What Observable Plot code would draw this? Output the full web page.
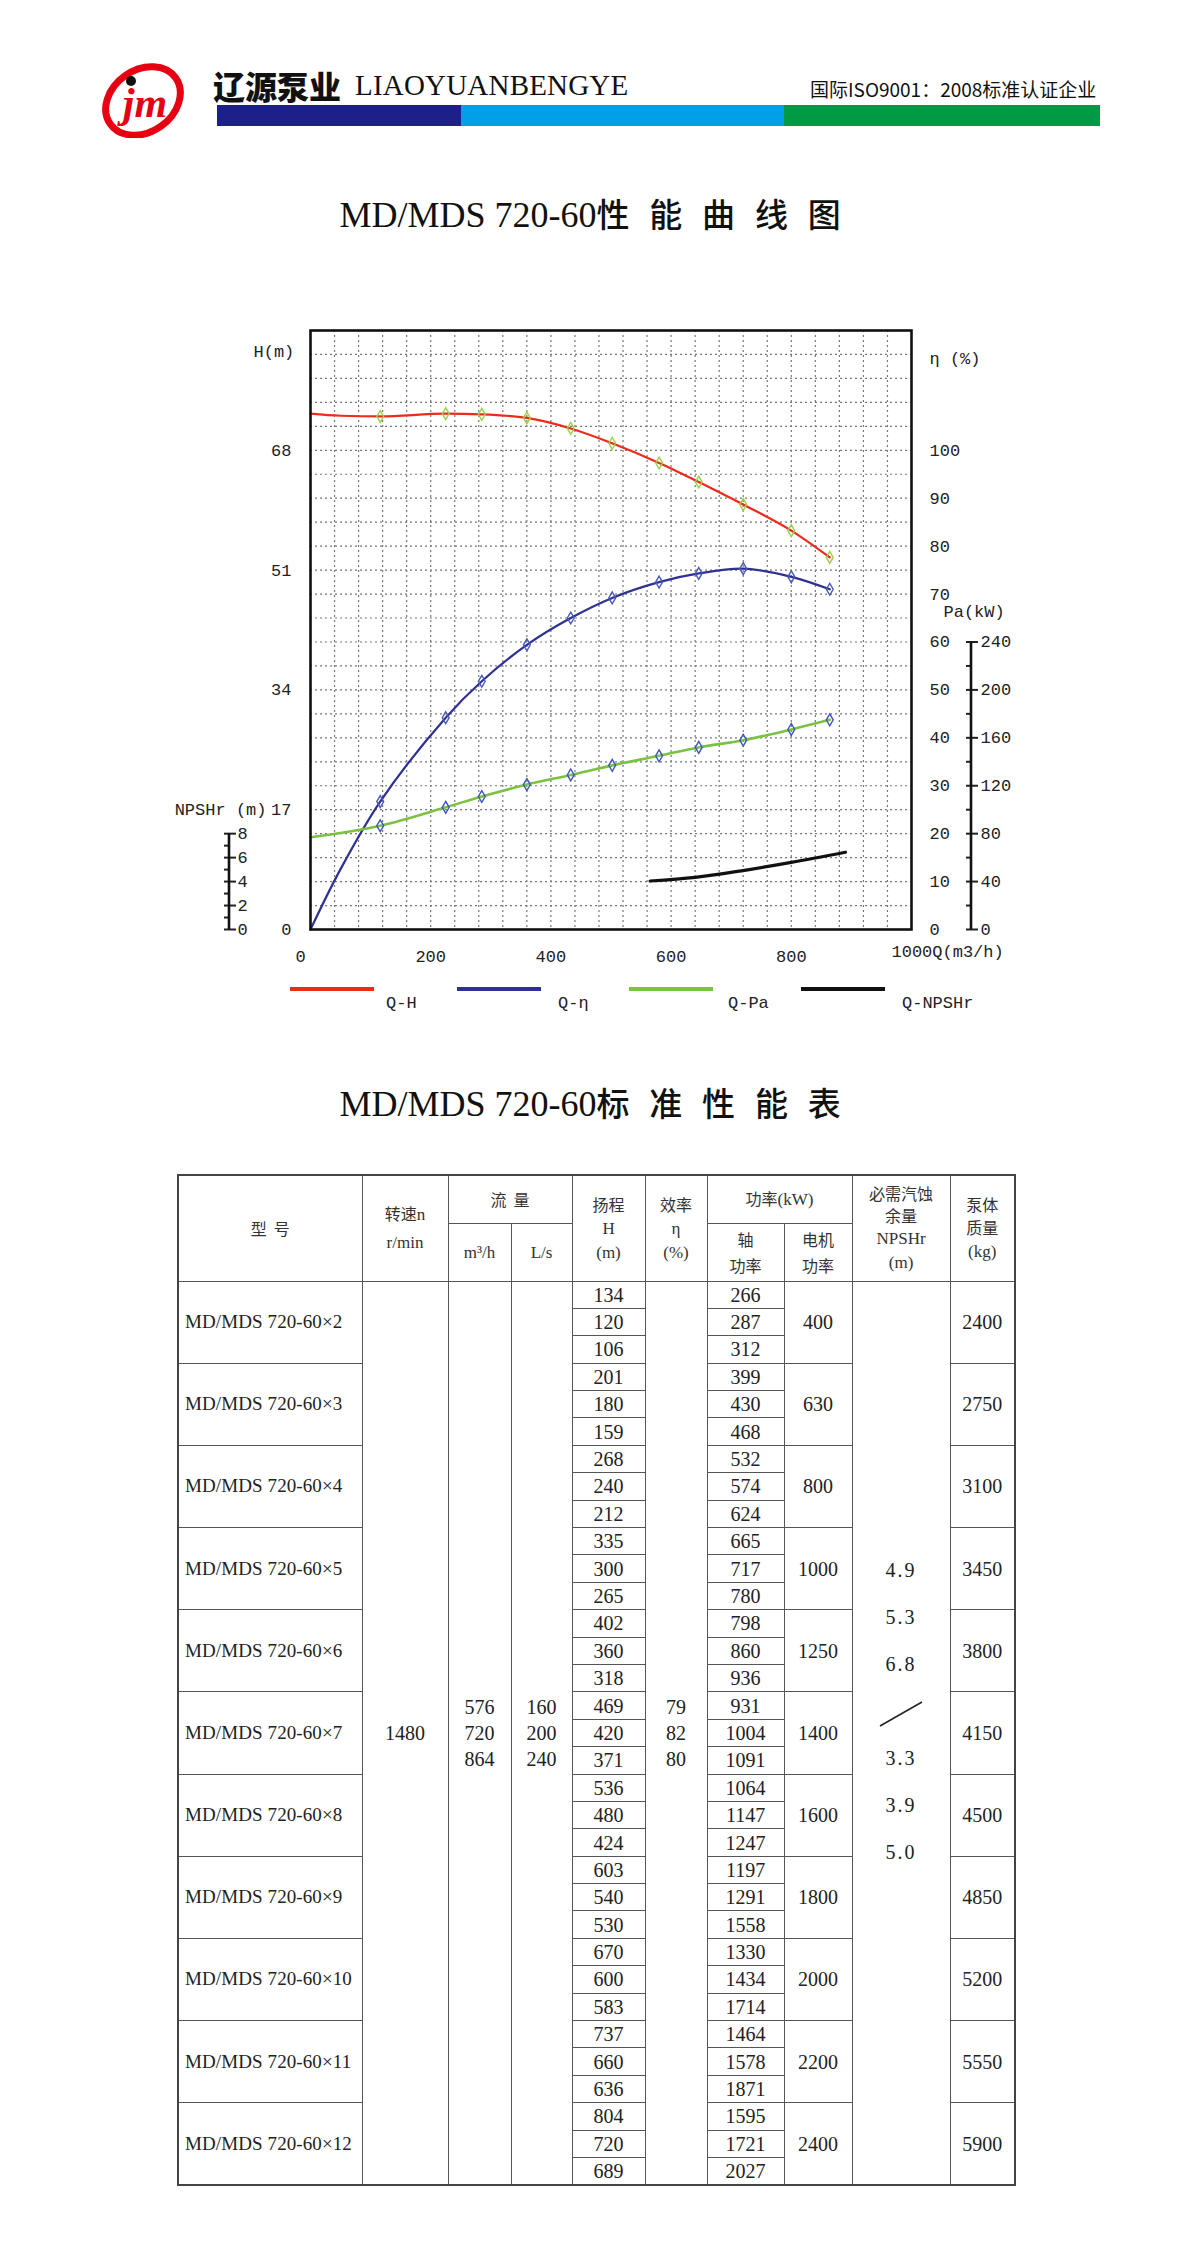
<!DOCTYPE html>
<html><head><meta charset="utf-8">
<script src="https://cdn.jsdelivr.net/npm/d3@7"></script>
<script src="https://cdn.jsdelivr.net/npm/@observablehq/plot@0.6"></script>
<style>
body{margin:0;background:#fff;}
#page{position:relative;width:1200px;height:2250px;overflow:hidden;background:#fff;color:#222;font-family:"Liberation Serif","Noto Sans CJK SC",serif;}
.abs{position:absolute;white-space:nowrap;}
.bar{position:absolute;top:105px;height:21px;}
.title{position:absolute;left:0;width:1200px;text-align:center;font-size:36px;line-height:36px;font-family:"Liberation Serif","Noto Sans CJK SC",serif;color:#111;}
.title .cn{letter-spacing:0.6em;font-family:"Noto Sans CJK SC";font-weight:500;font-size:33px;}
#chart{position:absolute;left:0;top:300px;}
.lg{position:absolute;top:987px;height:4px;}
.lgt{position:absolute;top:994px;font-family:"Liberation Mono",monospace;font-size:17px;line-height:20px;color:#222;}
#tbl{position:absolute;left:177px;top:1174px;border-collapse:collapse;table-layout:fixed;width:837px;border:2px solid #444;}
#tbl td{border:1.5px solid #555;padding:0;text-align:center;vertical-align:middle;font-family:"Liberation Serif","Noto Sans CJK SC",serif;font-size:20px;color:#222;overflow:hidden;}
#tbl tr.d td{height:26.4px;line-height:26px;}
#tbl .hd{font-family:"Noto Sans CJK SC","Liberation Serif",serif;font-size:16px;line-height:23px;color:#333;}
#tbl .hd .en{font-family:"Liberation Serif";font-size:17px;}
#tbl td.model{font-size:19px;text-align:left;padding-left:6px;letter-spacing:0.1px;}
#tbl td.big{line-height:27.5px;}
.npsh{line-height:47px;transform:translateY(-21px);letter-spacing:2px;}
</style></head><body><div id="page">

<svg class="abs" style="left:95px;top:62px" width="95" height="76" viewBox="0 0 95 76">
  <ellipse cx="48" cy="39" rx="40" ry="31" fill="none" stroke="#e60012" stroke-width="7" transform="rotate(-35 48 39)"/>
  <circle cx="36" cy="19" r="5" fill="#111"/>
  <text x="50" y="55" text-anchor="middle" font-family="Liberation Serif" font-style="italic" font-weight="bold" font-size="42" fill="#e60012">jm</text>
</svg>
<div class="abs" style="left:213px;top:67px;font-family:'Noto Sans CJK SC';font-weight:900;font-size:32px;line-height:36px;color:#111;">辽源泵业</div>
<div class="abs" style="left:355px;top:67px;font-family:'Liberation Serif';font-size:29px;line-height:36px;color:#111;letter-spacing:0.2px;">LIAOYUANBENGYE</div>
<div class="abs" style="left:810px;top:77px;font-family:'Noto Sans CJK SC';font-size:19px;line-height:24px;color:#111;">国际ISO9001：2008标准认证企业</div>
<div class="bar" style="left:217px;width:244px;background:#1d2088;"></div>
<div class="bar" style="left:461px;width:323px;background:#00a0e9;"></div>
<div class="bar" style="left:784px;width:316px;background:#009944;"></div>

<div class="title" style="top:195px;">MD/MDS 720-60<span class="cn">性能曲线图</span></div>

<div id="chart"></div>

<div class="lg" style="left:290px;width:84px;background:#ee2a1b;"></div>
<div class="lgt" style="left:386px;">Q-H</div>
<div class="lg" style="left:457px;width:84px;background:#2e3192;"></div>
<div class="lgt" style="left:558px;">Q-η</div>
<div class="lg" style="left:629px;width:84px;background:#7cc242;"></div>
<div class="lgt" style="left:728px;">Q-Pa</div>
<div class="lg" style="left:801px;width:84px;background:#111;"></div>
<div class="lgt" style="left:902px;">Q-NPSHr</div>

<div class="title" style="top:1084px;">MD/MDS 720-60<span class="cn">标准性能表</span></div>

<table id="tbl"></table>
</div>
<script>
// ---------- chart data ----------
const qhQ   = [0, 50, 116, 225, 285, 360, 433, 502, 580, 646, 720, 800, 864];
const qhH   = [73.2, 72.9, 72.8, 73.2, 73.1, 72.6, 71.1, 69.0, 66.2, 63.5, 60.3, 56.6, 52.8];
const qetaQ = [0, 50, 116, 225, 285, 360, 433, 502, 580, 646, 720, 800, 864];
const qetaE = [0, 12.6, 26.7, 44.2, 51.8, 59.4, 65.0, 69.2, 72.5, 74.3, 75.3, 73.6, 71.0];
const qpaQ  = [0, 116, 225, 285, 360, 433, 502, 580, 646, 720, 800, 864];
const qpaP  = [77, 86.6, 102, 111, 121, 129, 137, 145, 152, 158, 167, 175];
const npshQ = [565, 640, 717, 800, 890];
const npshV = [4.05, 4.35, 4.9, 5.6, 6.45];
const markerQ = [116, 225, 285, 360, 433, 502, 580, 646, 720, 800, 864];

// axis tick labels
const xTicks = [0, 200, 400, 600, 800];
const hTicks = [0, 17, 34, 51, 68];
const etaTicks = [0, 10, 20, 30, 40, 50, 60, 70, 80, 90, 100];
const paTicks = [0, 40, 80, 120, 160, 200, 240];
const paMinor = [20, 60, 100, 140, 180, 220];
const npTicks = [0, 2, 4, 6, 8];
const npMinor = [1, 3, 5, 7];
const gridQ = d3.range(40, 1000, 40);
const gridH = d3.range(1, 25).map(i => i * 3.4);

// secondary axes expressed in head units (H 85 = full height)
const kEta = 0.68, kPa = 0.17, kNp = 1.7;

const rowsH = qhQ.map((q, i) => ({q, v: qhH[i]}));
const rowsE = qetaQ.map((q, i) => ({q, v: qetaE[i] * kEta}));
const rowsP = qpaQ.map((q, i) => ({q, v: qpaP[i] * kPa}));
const rowsN = npshQ.map((q, i) => ({q, v: npshV[i] * kNp}));
const mk = rows => rows.filter(d => markerQ.includes(d.q));

const RED = "#ee2a1b", BLUE = "#2e3192", GREEN = "#7cc242", BLACK = "#111";

const chart = Plot.plot({
  width: 1200, height: 679,
  marginLeft: 310, marginRight: 289, marginTop: 30, marginBottom: 50,
  x: {domain: [0, 1000]},
  y: {domain: [0, 85]},
  style: {fontFamily: "Liberation Mono, monospace", fontSize: "17px", color: "#222", background: "transparent"},
  marks: [
    Plot.ruleX(gridQ, {stroke: "#777", strokeDasharray: "2,3", strokeWidth: 1.2}),
    Plot.ruleY(gridH, {stroke: "#777", strokeDasharray: "2,3", strokeWidth: 1.2}),
    Plot.line(rowsH, {x: "q", y: "v", stroke: RED, strokeWidth: 2.2, curve: "monotone-x"}),
    Plot.line(rowsE, {x: "q", y: "v", stroke: BLUE, strokeWidth: 2.2, curve: "catmull-rom"}),
    Plot.line(rowsP, {x: "q", y: "v", stroke: GREEN, strokeWidth: 2.6, curve: "monotone-x"}),
    Plot.line(rowsN, {x: "q", y: "v", stroke: BLACK, strokeWidth: 3.2, curve: "monotone-x"}),
    Plot.dot(mk(rowsH), {x: "q", y: "v", symbol: "diamond", r: 3.6, stroke: "#9bd04a", strokeWidth: 1.4, fill: "none"}),
    Plot.dot(mk(rowsE), {x: "q", y: "v", symbol: "diamond", r: 3.6, stroke: "#4a5ab8", strokeWidth: 1.4, fill: "none"}),
    Plot.dot(mk(rowsP), {x: "q", y: "v", symbol: "diamond", r: 3.6, stroke: "#3f55c0", strokeWidth: 1.4, fill: "none"}),
    Plot.frame({stroke: "#111", strokeWidth: 2.6}),
    Plot.axisX({ticks: xTicks.filter(d => d > 0), tickSize: 0, tickPadding: 20, label: null}),
    Plot.text(xTicks.filter(d => d === 0), {x: d => d, text: d => String(d), frameAnchor: "bottom", dx: -10, dy: 20, lineAnchor: "top"}),
    Plot.axisY({ticks: hTicks, anchor: "left", tickSize: 0, tickPadding: 19, label: null}),
    Plot.axisY({ticks: etaTicks.map(v => v * kEta), anchor: "right", tickSize: 0, tickPadding: 18,
      tickFormat: d => Math.round(d / kEta), label: null}),
    Plot.axisY({ticks: paTicks.map(v => v * kPa), anchor: "right", dx: 54, tickSize: 12, tickPadding: 3,
      tickFormat: d => Math.round(d / kPa), label: null, strokeWidth: 2}),
    Plot.axisY({ticks: paMinor.map(v => v * kPa), anchor: "right", dx: 54, tickSize: 6, tickPadding: 0,
      tickFormat: () => "", label: null, strokeWidth: 2}),
    Plot.axisY({ticks: npTicks.map(v => v * kNp), anchor: "right", dx: -688, tickSize: 12, tickPadding: 2,
      tickFormat: d => Math.round(d / kNp), label: null, strokeWidth: 2}),
    Plot.axisY({ticks: npMinor.map(v => v * kNp), anchor: "right", dx: -688, tickSize: 6, tickPadding: 0,
      tickFormat: () => "", label: null, strokeWidth: 2}),
    Plot.text(["H(m)"], {frameAnchor: "top-left", dx: -57, dy: 14, textAnchor: "start"}),
    Plot.text(["η (%)"], {frameAnchor: "top-right", dx: 18, dy: 21, textAnchor: "start"}),
    Plot.text([{y: 240 * kPa, t: "Pa(kW)"}], {y: "y", text: "t", frameAnchor: "right", dx: 32, dy: -30, textAnchor: "start"}),
    Plot.text([{y: 17, t: "NPSHr (m)"}], {y: "y", text: "t", frameAnchor: "left", dx: -44, textAnchor: "end"}),
    Plot.text(["1000Q(m3/h)"], {frameAnchor: "bottom-right", dx: -20, dy: 27, textAnchor: "start"})
  ]
});
document.getElementById("chart").appendChild(chart);

// vertical lines of the two outside scales (Pa and NPSHr)
{
  const ys = chart.scale("y");
  const svg = d3.select(chart);
  const g = svg.append("g").attr("stroke", "#111").attr("stroke-width", 2.6);
  g.append("line").attr("x1", 971).attr("x2", 971).attr("y1", ys.apply(0)).attr("y2", ys.apply(240 * kPa));
  g.append("line").attr("x1", 229).attr("x2", 229).attr("y1", ys.apply(0)).attr("y2", ys.apply(8 * kNp));
}

// ---------- table data ----------
const stages = [2, 3, 4, 5, 6, 7, 8, 9, 10, 11, 12];
const headH = [134,120,106, 201,180,159, 268,240,212, 335,300,265, 402,360,318, 469,420,371,
               536,480,424, 603,540,530, 670,600,583, 737,660,636, 804,720,689];
const shaftP = [266,287,312, 399,430,468, 532,574,624, 665,717,780, 798,860,936, 931,1004,1091,
                1064,1147,1247, 1197,1291,1558, 1330,1434,1714, 1464,1578,1871, 1595,1721,2027];
const motorP = [400, 630, 800, 1000, 1250, 1400, 1600, 1800, 2000, 2200, 2400];
const massKg = [2400, 2750, 3100, 3450, 3800, 4150, 4500, 4850, 5200, 5550, 5900];
const speed = 1480;
const flowM3h = [576, 720, 864];
const flowLs = [160, 200, 240];
const effPct = [79, 82, 80];
const npshrA = ["4.9", "5.3", "6.8"];
const npshrB = ["3.3", "3.9", "5.0"];

{
  const widths = [184, 86, 63, 61, 73, 62, 77, 68, 98, 65];
  let h = "<colgroup>" + widths.map(w => `<col style="width:${w}px">`).join("") + "</colgroup>";
  h += `<tr style="height:48px">
    <td class="hd" rowspan="2">型&nbsp;&nbsp;号</td>
    <td class="hd" rowspan="2" style="line-height:27px">转速<span class="en">n</span><br><span class="en">r/min</span></td>
    <td class="hd" colspan="2">流&nbsp;&nbsp;量</td>
    <td class="hd" rowspan="2">扬程<br><span class="en">H</span><br><span class="en">(m)</span></td>
    <td class="hd" rowspan="2">效率<br><span class="en">η</span><br><span class="en">(%)</span></td>
    <td class="hd" colspan="2">功率<span class="en">(kW)</span></td>
    <td class="hd" rowspan="2" style="line-height:22px">必需汽蚀<br>余量<br><span class="en">NPSHr</span><br><span class="en">(m)</span></td>
    <td class="hd" rowspan="2">泵体<br>质量<br><span class="en">(kg)</span></td>
  </tr>
  <tr style="height:58px">
    <td class="hd"><span class="en">m³/h</span></td>
    <td class="hd"><span class="en">L/s</span></td>
    <td class="hd" style="line-height:26px">轴<br>功率</td>
    <td class="hd" style="line-height:26px">电机<br>功率</td>
  </tr>`;
  const slash = `<svg width="46" height="28" style="vertical-align:middle"><line x1="2" y1="26" x2="44" y2="2" stroke="#222" stroke-width="1.6"/></svg>`;
  stages.forEach((n, m) => {
    for (let r = 0; r < 3; r++) {
      const i = m * 3 + r;
      h += `<tr class="d">`;
      if (r === 0) h += `<td class="model" rowspan="3">MD/MDS 720-60×${n}</td>`;
      if (i === 0) {
        h += `<td class="big" rowspan="33">${speed}</td>`;
        h += `<td class="big" rowspan="33">${flowM3h.join("<br>")}</td>`;
        h += `<td class="big" rowspan="33">${flowLs.join("<br>")}</td>`;
      }
      h += `<td>${headH[i]}</td>`;
      if (i === 0) h += `<td class="big" rowspan="33">${effPct.join("<br>")}</td>`;
      h += `<td>${shaftP[i]}</td>`;
      if (r === 0) h += `<td rowspan="3">${motorP[m]}</td>`;
      if (i === 0) h += `<td rowspan="33"><div class="npsh">${npshrA.join("<br>")}<br>${slash}<br>${npshrB.join("<br>")}</div></td>`;
      if (r === 0) h += `<td rowspan="3">${massKg[m]}</td>`;
      h += `</tr>`;
    }
  });
  document.getElementById("tbl").innerHTML = h;
}
</script>
</body></html>
